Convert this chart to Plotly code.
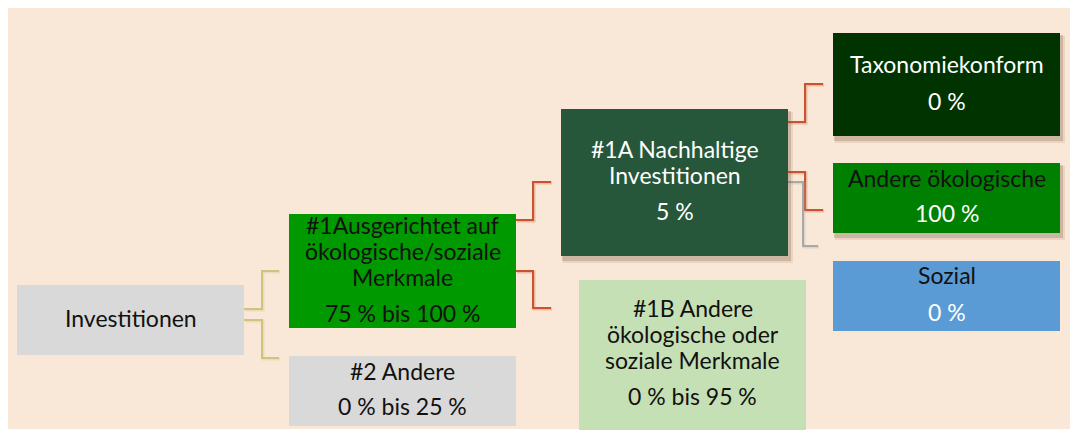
import plotly.graph_objects as go

# data: box titles (pre-wrapped as in the source) and their shares
names = ["inv", "a1", "a2", "n1a", "n1b", "tax", "ando", "soz"]
titles = [
    ["Investitionen"],
    ["#1Ausgerichtet auf", "ökologische/soziale", "Merkmale"],
    ["#2 Andere"],
    ["#1A Nachhaltige", "Investitionen"],
    ["#1B Andere", "ökologische oder", "soziale Merkmale"],
    ["Taxonomiekonform"],
    ["Andere ökologische"],
    ["Sozial"],
]
shares = ["", "75 % bis 100 %", "0 % bis 25 %", "5 %", "0 % bis 95 %", "0 %", "100 %", "0 %"]

# layout of the diagram (page pixels, y downwards)
W, H = 1078, 430
PAD = 8  # the page body margin in front of the plot div
BOX_W = 227
TXT_DY = -2
geo = {  # x0, y0, y1, first-line y, line step, share y
    "inv": (17, 285, 355, 320, 26, None),
    "a1": (289, 214, 328, 227, 26, 315),
    "a2": (289, 356, 426, 373, 26, 408),
    "n1a": (561, 109, 256, 151, 26, 213),
    "n1b": (579, 280, 440, 310, 26, 398),
    "tax": (833, 33, 136, 66, 26, 103),
    "ando": (833, 163, 233, 180, 26, 215),
    "soz": (833, 261, 331, 277, 26, 314),
}
style = {  # fill, title colour, share colour, shadow
    "inv": ("#D9D9D9", "#111111", "#111111", False),
    "a1": ("#009900", "#111111", "#111111", False),
    "a2": ("#D9D9D9", "#111111", "#111111", False),
    "n1a": ("#26573A", "#FFFFFF", "#FFFFFF", True),
    "n1b": ("#C5E0B4", "#111111", "#111111", False),
    "tax": ("#003300", "#FFFFFF", "#FFFFFF", True),
    "ando": ("#008000", "#111111", "#FFFFFF", True),
    "soz": ("#5B9BD5", "#111111", "#FFFFFF", False),
}

# connectors: (start x, start y, elbow x, end y, end x, colour)
RED, TAN, GREY = "#C8532F", "#D2C27F", "#A8A8A8"
links = [
    (244, 309, 262, 271, 279, TAN),
    (244, 320, 262, 358, 279, TAN),
    (516, 220, 533, 182, 551, RED),
    (516, 271, 533, 308, 551, RED),
    (788, 122, 805, 84, 823, RED),
    (788, 172, 805, 210, 823, RED),
    (788, 182, 803, 246, 818, GREY),
]

FONT = "Lato, 'Open Sans', sans-serif"
FS = 23

shapes = [dict(type="rect", x0=8, x1=1073, y0=5, y1=429, line_width=0,
               fillcolor="#F9E8D7", layer="below")]
annotations = []
fig = go.Figure()

for n, t, s in zip(names, titles, shares):
    x0, y0, y1, ty, step, sy = geo[n]
    fill, tc, sc, shadow = style[n]
    if shadow:
        shapes.append(dict(type="rect", x0=x0 + 2, x1=x0 + BOX_W + 5, y0=y0 + 3, y1=y1 + 7,
                           line_width=0, fillcolor="rgba(150,110,80,0.15)"))
        shapes.append(dict(type="rect", x0=x0 + 1, x1=x0 + BOX_W + 3, y0=y0 + 2, y1=y1 + 5,
                           line_width=0, fillcolor="rgba(120,90,60,0.25)"))
    shapes.append(dict(type="rect", x0=x0, x1=x0 + BOX_W, y0=y0, y1=y1,
                       line_width=0, fillcolor=fill))
    cx = x0 + BOX_W / 2
    for i, line in enumerate(t):
        annotations.append(dict(x=cx, y=ty + i * step + TXT_DY, text=line, showarrow=False,
                                xanchor="center", yanchor="middle",
                                font=dict(family=FONT, size=FS, color=tc)))
    if s:
        annotations.append(dict(x=cx, y=sy + TXT_DY, text=s, showarrow=False,
                                xanchor="center", yanchor="middle",
                                font=dict(family=FONT, size=FS, color=sc)))

for sx, sy, ex_mid, ey, ex, col in links:
    xs = [sx, ex_mid, ex_mid, ex]
    ys = [sy, sy, ey, ey]
    fig.add_trace(go.Scatter(x=[v + 1 for v in xs], y=[v + 1 for v in ys], mode="lines",
                             line=dict(color=col, width=3), opacity=0.3,
                             hoverinfo="skip", showlegend=False))
    fig.add_trace(go.Scatter(x=xs, y=ys, mode="lines", line=dict(color=col, width=2),
                             hoverinfo="skip", showlegend=False))

fig.update_layout(
    width=W - PAD, height=H - PAD, margin=dict(l=0, r=0, t=0, b=0),
    paper_bgcolor="white", plot_bgcolor="rgba(0,0,0,0)",
    xaxis=dict(range=[PAD, W], visible=False, fixedrange=True),
    yaxis=dict(range=[H, PAD], visible=False, fixedrange=True),
    shapes=shapes, annotations=annotations, showlegend=False,
)

fig.write_html("out.html", config={"displayModeBar": False})
